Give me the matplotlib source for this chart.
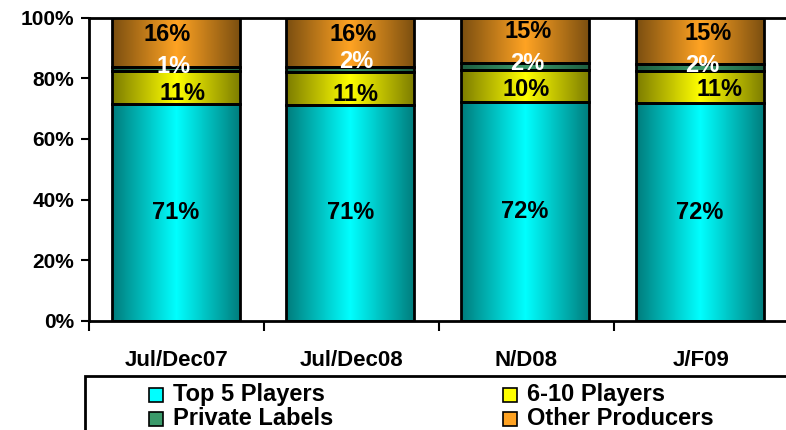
import numpy as np
import matplotlib
matplotlib.use("Agg")
import matplotlib.pyplot as plt
from matplotlib.patches import Rectangle
from matplotlib.colors import to_rgb
from matplotlib import font_manager as fm

# ---------------- data ----------------
categories = ["Jul/Dec07", "Jul/Dec08", "N/D08", "J/F09"]
series_names = ["Top 5 Players", "6-10 Players", "Private Labels", "Other Producers"]
top5 = [71.4, 71.3, 72.3, 71.7]
players_6_10 = [10.9, 10.7, 10.4, 10.8]
private_labels = [1.4, 1.7, 2.2, 2.1]
other_producers = [16.3, 16.3, 15.1, 15.4]
top5_labels = ["71%", "71%", "72%", "72%"]
players_6_10_labels = ["11%", "11%", "10%", "11%"]
private_labels_labels = ["1%", "2%", "2%", "2%"]
other_producers_labels = ["16%", "16%", "15%", "15%"]
y_ticks = [0, 20, 40, 60, 80, 100]
y_tick_labels = ["0%", "20%", "40%", "60%", "80%", "100%"]

series = [top5, players_6_10, private_labels, other_producers]
series_labels = [top5_labels, players_6_10_labels, private_labels_labels, other_producers_labels]

# ---------------- style ----------------
center_cols = ["#00FFFF", "#FFFF00", "#3A9A6A", "#FFA323"]
edge_cols = ["#007C7C", "#7C7C00", "#1E5E40", "#7A4E10"]
text_cols = ["black", "black", "white", "black"]
# per-label nudges in pixels (dx right, dy down) to match reference placement
nudges = [
    [(0, 0), (7, 6), (-2.5, -2.5), (-9, -7.5)],
    [(0, 0), (5, 5.7), (5.5, -8.5), (3, -8)],
    [(0, 0), (1, 4), (2, -3), (3, -8.7)],
    [(0, 0), (20, 2), (2, -2.4), (8, -7)],
]

# locate regular-width Liberation Sans Bold (avoid the Narrow variant)
bold_file = None
for f in fm.fontManager.ttflist:
    base = f.fname.split("/")[-1]
    if base == "LiberationSans-Bold.ttf":
        bold_file = f.fname
        break


def fp(size):
    if bold_file:
        return fm.FontProperties(fname=bold_file, size=size)
    return fm.FontProperties(family="DejaVu Sans", weight="bold", size=size)


W, H = 786, 430
fig = plt.figure(figsize=(W / 100, H / 100), dpi=100)
ax_left, ax_right = 89.3, 788.3
ax_top, ax_bot = 17.5, 321.0
ax = fig.add_axes([ax_left / W, (H - ax_bot) / H, (ax_right - ax_left) / W, (ax_bot - ax_top) / H])

x = np.arange(len(categories))
bar_w = 0.733


def gradient_img(c_center, c_edge, n=256):
    t = np.abs(np.linspace(-1, 1, n))
    cc = np.array(to_rgb(c_center))
    ce = np.array(to_rgb(c_edge))
    img = cc[None, :] * (1 - t[:, None]) + ce[None, :] * t[:, None]
    return img[None, :, :]


bottom = np.zeros(len(categories))
for si, vals in enumerate(series):
    vals = np.array(vals)
    bars = ax.bar(x - 0.006, vals, bar_w, bottom=bottom, facecolor="none",
                  edgecolor="black", linewidth=2.0, zorder=3)
    grad = gradient_img(center_cols[si], edge_cols[si])
    for bi, r in enumerate(bars):
        bx, by, bw, bh = r.get_x(), r.get_y(), r.get_width(), r.get_height()
        ax.imshow(grad, extent=[bx, bx + bw, by, by + bh], aspect="auto",
                  interpolation="bilinear", zorder=2)
        dx, dy = nudges[bi][si]
        ax.annotate(series_labels[si][bi], (bx + bw / 2, by + bh / 2),
                    xytext=(dx * 0.72, -dy * 0.72), textcoords="offset points",
                    ha="center", va="center", fontproperties=fp(17),
                    color=text_cols[si], zorder=5)
    bottom = bottom + vals

ax.set_xlim(-0.5, 3.5)
ax.set_ylim(0, 100)

# spines
ax.spines["right"].set_visible(False)
for s in ["left", "bottom", "top"]:
    ax.spines[s].set_linewidth(2.0)
    ax.spines[s].set_color("black")

# y axis
ax.set_yticks(y_ticks)
ax.set_yticklabels(y_tick_labels, fontproperties=fp(15))
ax.tick_params(axis="y", direction="out", length=6, width=1.5, pad=5)

# x axis: major ticks at category boundaries, labels on minor ticks
ax.set_xticks([-0.5, 0.5, 1.5, 2.5])
ax.set_xticklabels([])
ax.tick_params(axis="x", which="major", direction="out", length=7, width=1.5)
ax.set_xticks(x, minor=True)
ax.set_xticklabels(categories, minor=True, fontproperties=fp(16))
ax.tick_params(axis="x", which="minor", length=0, pad=21)

# ---------------- legend (framed box, partly cropped like reference) ----------------
fig.patches.append(Rectangle((85 / W, -0.2), 1.0, (H - 376) / H + 0.2,
                             transform=fig.transFigure, facecolor="white",
                             edgecolor="black", linewidth=2.0, clip_on=False))
leg_pos = [(149, 395), (503, 395), (149, 418.5), (503, 418.5)]
for (lx, ly), si in zip(leg_pos, range(4)):
    sq = 14
    fig.patches.append(Rectangle((lx / W, (H - ly - sq / 2) / H), sq / W, sq / H,
                                 transform=fig.transFigure, facecolor=center_cols[si],
                                 edgecolor="black", linewidth=1.2))
    fig.text((lx + 24) / W, (H - ly) / H, series_names[si], ha="left", va="center",
             fontproperties=fp(17))

fig.savefig("out.png", dpi=100)
